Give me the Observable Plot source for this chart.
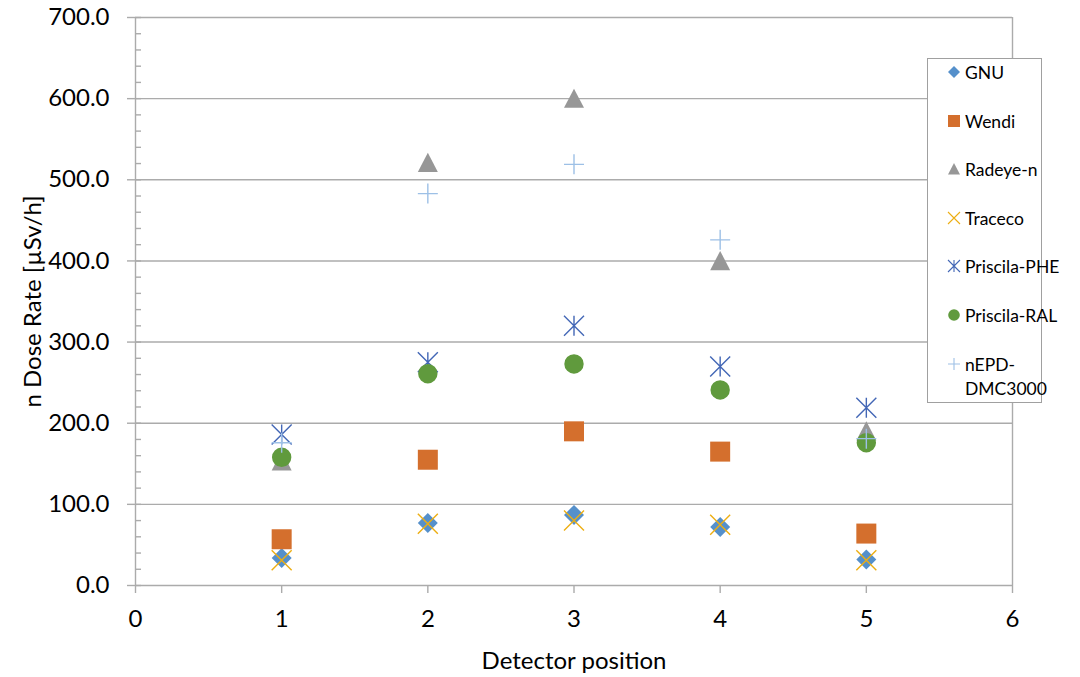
<!DOCTYPE html>
<html>
<head>
<meta charset="utf-8">
<script src="https://cdn.jsdelivr.net/npm/d3@7"></script>
<script src="https://cdn.jsdelivr.net/npm/@observablehq/plot@0.6"></script>
<style>
  body { margin: 0; background: #fff; }
  #wrap { position: relative; width: 1080px; height: 677px; overflow: hidden; }
  #legend { position: absolute; left: 927px; top: 58px; width: 115px; height: 345px;
            border: 1.3px solid #a0a0a0; background: #fff; box-sizing: border-box;
            font-family: Lato, sans-serif; font-size: 17.5px; color: #000; }
  .row { position: absolute; left: 0; height: 20px; display: flex; align-items: center; white-space: nowrap; }
  .row svg { margin-left: 19px; margin-right: 4px; }
  .cont { position: absolute; left: 37px; white-space: nowrap; line-height: 20px; }
</style>
</head>
<body>
<div id="wrap"><div id="chart"></div><div id="legend"></div></div>
<script>
// ---- data ----
const positions = [1, 2, 3, 4, 5];
const seriesNames = ["GNU", "Wendi", "Radeye-n", "Traceco", "Priscila-PHE", "Priscila-RAL", "nEPD-DMC3000"];
const gnu      = [34, 77, 87, 72, 32];
const wendi    = [57, 155, 190, 165, 64];
const radeye   = [153, 521, 600, 400, 190];
const traceco  = [31, 76, 80, 75, 31];
const priscilaPHE = [186, 275, 320, 270, 219];
const priscilaRAL = [158, 261, 273, 241, 176];
const nEPD     = [176, 483, 519, 426, 181];
const yTicks = [0, 100, 200, 300, 400, 500, 600, 700];
const yMinorTicks = d3.range(0, 701, 20);
const xTicks = [0, 1, 2, 3, 4, 5, 6];
const xTitle = "Detector position";
const yTitle = "n Dose Rate [µSv/h]";

// ---- marker shapes (Excel-like) ----
const rad = size => Math.sqrt(size / Math.PI);
const sym = {
  diamond: { draw(c, s) { const r = rad(s); c.moveTo(0, -r); c.lineTo(r, 0); c.lineTo(0, r); c.lineTo(-r, 0); c.closePath(); } },
  square:  { draw(c, s) { const r = rad(s); c.rect(-r, -r, 2 * r, 2 * r); } },
  triangle:{ draw(c, s) { const r = rad(s); c.moveTo(0, -r); c.lineTo(r, 0.92 * r); c.lineTo(-r, 0.92 * r); c.closePath(); } },
  times:   { draw(c, s) { const r = rad(s); c.moveTo(-r, -r); c.lineTo(r, r); c.moveTo(-r, r); c.lineTo(r, -r); } },
  asterisk:{ draw(c, s) { const r = rad(s); c.moveTo(-r, -r); c.lineTo(r, r); c.moveTo(-r, r); c.lineTo(r, -r); c.moveTo(0, -r); c.lineTo(0, r); } },
  circle:  { draw(c, s) { const r = rad(s) * 0.97; c.moveTo(r, 0); c.arc(0, 0, r, 0, 2 * Math.PI); } },
  plus:    { draw(c, s) { const r = rad(s); c.moveTo(-r, 0); c.lineTo(r, 0); c.moveTo(0, -r); c.lineTo(0, r); } }
};

const series = [
  { name: seriesNames[0], values: gnu,         symbol: sym.diamond,  fill: "#5590CB", stroke: "none" },
  { name: seriesNames[1], values: wendi,       symbol: sym.square,   fill: "#D46F2D", stroke: "none" },
  { name: seriesNames[2], values: radeye,      symbol: sym.triangle, fill: "#979797", stroke: "none" },
  { name: seriesNames[3], values: traceco,     symbol: sym.times,    fill: "none",    stroke: "#EDAE12" },
  { name: seriesNames[4], values: priscilaPHE, symbol: sym.asterisk, fill: "none",    stroke: "#4367B6" },
  { name: seriesNames[5], values: priscilaRAL, symbol: sym.circle,   fill: "#609A3D", stroke: "none" },
  { name: seriesNames[6], values: nEPD,        symbol: sym.plus,     fill: "none",    stroke: "#9DC0E6" }
];

const gridColor = "#ababab";

const marks = [
  Plot.ruleY(yTicks.filter(d => d > 0), { stroke: gridColor, strokeWidth: 1.4 }),
  Plot.ruleX([6], { stroke: gridColor, strokeWidth: 1.4 }),
  Plot.axisY(yMinorTicks, { anchor: "left", tickSize: 6, insetLeft: 6, tickFormat: () => "", label: null, stroke: gridColor, strokeWidth: 1.4 }),
  Plot.axisY(yTicks, { anchor: "left", tickSize: 8, tickPadding: 18, tickFormat: d => d.toFixed(1), label: null, stroke: gridColor, strokeWidth: 1.4, fill: "#000" }),
  Plot.axisX(xTicks, { anchor: "bottom", tickSize: 8, tickPadding: 16, tickFormat: d => String(d), label: null, stroke: gridColor, strokeWidth: 1.4, fill: "#000" }),
  Plot.ruleX([0], { stroke: gridColor, strokeWidth: 1.4 }),
  Plot.ruleY([0], { stroke: gridColor, strokeWidth: 1.4 }),
  Plot.text([xTitle], { frameAnchor: "bottom", dy: 76, text: d => d, lineAnchor: "middle", fill: "#000" }),
  Plot.text([yTitle], { frameAnchor: "left", dx: -102, rotate: -90, text: d => d, lineAnchor: "middle", textAnchor: "middle", fill: "#000" })
];

for (const s of series) {
  marks.push(Plot.dot(positions, {
    x: d => d,
    y: (d, i) => s.values[i],
    symbol: s.symbol,
    r: 10,
    fill: s.fill,
    stroke: s.stroke,
    strokeWidth: s.stroke === "none" ? 0 : 1.4
  }));
}

const chart = Plot.plot({
  width: 1080,
  height: 677,
  marginLeft: 135,
  marginRight: 68,
  marginTop: 17,
  marginBottom: 92,
  x: { domain: [0, 6], axis: null },
  y: { domain: [0, 700], axis: null },
  style: { fontFamily: "Lato, sans-serif", fontSize: "24px", background: "#fff", color: "#000" },
  marks
});
document.getElementById("chart").appendChild(chart);

// ---- legend ----
const legend = document.getElementById("legend");
const rowCenters = [13, 62, 110, 159, 207, 256, 305];
series.forEach((s, i) => {
  const row = document.createElement("div");
  row.className = "row";
  row.style.top = (rowCenters[i] - 10) + "px";
  const svg = d3.create("svg").attr("width", 14).attr("height", 14);
  svg.append("path")
    .attr("transform", "translate(7,7)")
    .attr("d", d3.symbol(s.symbol, Math.PI * 6 * 6)())
    .attr("fill", s.fill).attr("stroke", s.stroke).attr("stroke-width", 1.1);
  row.appendChild(svg.node());
  const label = s.name === "nEPD-DMC3000" ? "nEPD-" : s.name;
  const span = document.createElement("span");
  span.textContent = label;
  row.appendChild(span);
  legend.appendChild(row);
  if (s.name === "nEPD-DMC3000") {
    const cont = document.createElement("div");
    cont.className = "cont";
    cont.style.top = (rowCenters[i] + 15) + "px";
    cont.textContent = "DMC3000";
    legend.appendChild(cont);
  }
});
</script>
</body>
</html>
